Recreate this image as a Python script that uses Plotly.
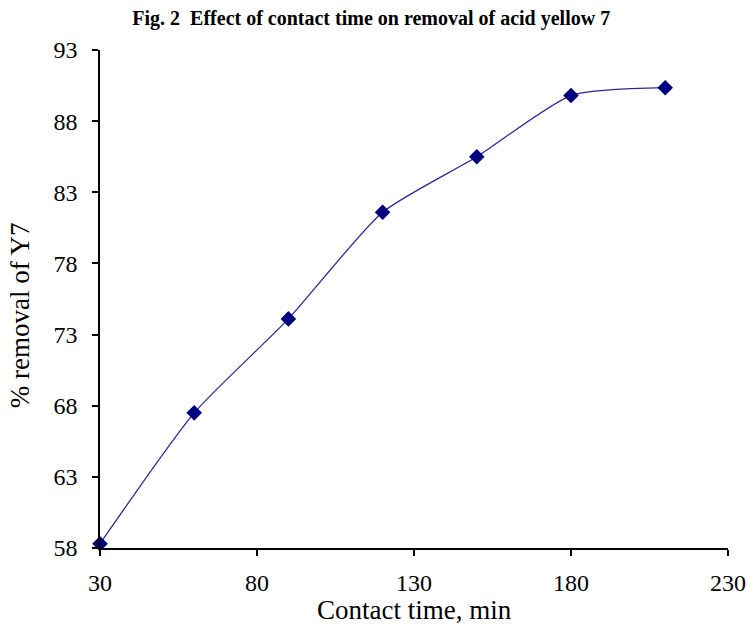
import plotly.graph_objects as go

contact_time = [30, 60, 90, 120, 150, 180, 210]
removal_pct = [58.3, 67.5, 74.1, 81.6, 85.5, 89.8, 90.35]
x_ticks = [30, 80, 130, 180, 230]
y_ticks = [58, 63, 68, 73, 78, 83, 88, 93]

font_family = "Liberation Serif, Times New Roman, serif"

fig = go.Figure()
fig.add_trace(go.Scatter(
    x=contact_time, y=removal_pct,
    mode="lines+markers",
    line=dict(color="#2a2a96", width=1.3, shape="spline", smoothing=0.6),
    marker=dict(symbol="diamond", size=12, color="#00007f"),
    showlegend=False,
    cliponaxis=False,
))

fig.update_layout(
    width=747, height=624,
    margin=dict(l=100, r=19, t=50, b=76, autoexpand=False),
    paper_bgcolor="white", plot_bgcolor="white",
    font=dict(family=font_family, color="#000000"),
    title=dict(
        text="<b>Fig. 2  Effect of contact time on removal of acid yellow 7</b>",
        x=0.497, xanchor="center", y=0.971, yanchor="middle",
        font=dict(size=20, family=font_family, color="#000000"),
    ),
    xaxis=dict(
        range=[30, 230], tickvals=x_ticks, ticktext=[str(v) for v in x_ticks],
        showgrid=False, zeroline=False, automargin=False,
        showline=True, linecolor="#000000", linewidth=1.5,
        ticks="outside", ticklen=6, tickcolor="#000000", tickwidth=1.5,
        tickfont=dict(size=24, family=font_family),
        ticklabeloverflow="allow", ticklabelstandoff=6,
    ),
    yaxis=dict(
        range=[58, 93], tickvals=y_ticks, ticktext=[str(v) for v in y_ticks],
        showgrid=False, zeroline=False, automargin=False,
        showline=True, linecolor="#000000", linewidth=1.5,
        ticks="outside", ticklen=6, tickcolor="#000000", tickwidth=1.5,
        tickfont=dict(size=24, family=font_family),
        ticklabeloverflow="allow", ticklabelstandoff=10,
    ),
    annotations=[
        dict(text="Contact time, min", xref="paper", yref="paper",
             x=0.5, y=-0.1245, xanchor="center", yanchor="middle",
             showarrow=False, font=dict(size=27, family=font_family)),
        dict(text="% removal of Y7", xref="paper", yref="paper",
             x=-0.127, y=0.468, xanchor="center", yanchor="middle",
             textangle=-90, showarrow=False, font=dict(size=27, family=font_family)),
    ],
)

fig.write_html("out.html")
